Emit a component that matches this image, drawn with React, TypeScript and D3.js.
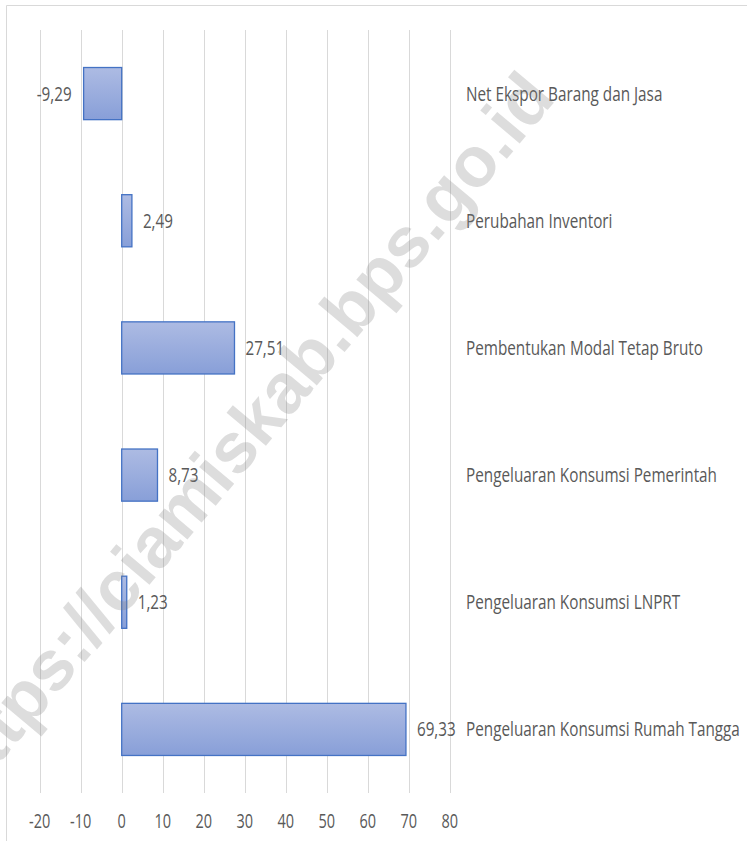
import React from "react";
import * as d3 from "d3";

const categories = [
  "Net Ekspor Barang dan Jasa",
  "Perubahan Inventori",
  "Pembentukan Modal Tetap Bruto",
  "Pengeluaran Konsumsi Pemerintah",
  "Pengeluaran Konsumsi LNPRT",
  "Pengeluaran Konsumsi Rumah Tangga",
];
const values = [-9.29, 2.49, 27.51, 8.73, 1.23, 69.33];
const valueLabels = ["-9,29", "2,49", "27,51", "8,73", "1,23", "69,33"];
const xTicks = [-20, -10, 0, 10, 20, 30, 40, 50, 60, 70, 80];
const watermark = "https://ciamiskab.bps.go.id";

const W = 747;
const H = 841;
const FONT = "'Open Sans', 'Noto Sans', sans-serif";
const TXT = "#595959";
const SY = 1.35;

export default function App() {
  const x = d3.scaleLinear().domain([-20, 80]).range([39.7, 449.7]);
  const y = d3
    .scaleBand<string>()
    .domain(categories)
    .range([30, 793])
    .paddingInner(0.59)
    .paddingOuter(0.295);
  const bw = y.bandwidth();

  return (
    <svg
      width={W}
      height={H}
      style={{ position: "absolute", left: 0, top: 0, background: "#fff" }}
    >
      <defs>
        <linearGradient id="barGrad" x1="0" y1="0" x2="0" y2="1">
          <stop offset="0%" stopColor="#adbbe3" />
          <stop offset="100%" stopColor="#889fd8" />
        </linearGradient>
      </defs>
      <rect x={0} y={0} width={W} height={H} fill="#fff" />
      {/* chart border */}
      <line x1={6.5} y1={5.5} x2={W} y2={5.5} stroke="#d9d9d9" strokeWidth={1} />
      <line x1={6.5} y1={5.5} x2={6.5} y2={H} stroke="#d9d9d9" strokeWidth={1} />

      {/* gridlines */}
      {xTicks.map((t) => (
        <line
          key={t}
          x1={Math.round(x(t)) + 0.5}
          x2={Math.round(x(t)) + 0.5}
          y1={30}
          y2={793}
          stroke="#d9d9d9"
          strokeWidth={1}
        />
      ))}

      {/* tick labels */}
      {xTicks.map((t) => (
        <text
          key={"t" + t}
          transform={`translate(${x(t)},828) scale(1,${SY})`}
          textAnchor="middle"
          fontFamily={FONT}
          fontSize={14.5}
          fill={TXT}
        >
          {String(t)}
        </text>
      ))}

      {/* bars */}
      {categories.map((c, i) => {
        const v = values[i];
        const x0 = x(Math.min(0, v));
        const x1 = x(Math.max(0, v));
        return (
          <rect
            key={c}
            x={x0}
            y={y(c)!}
            width={x1 - x0}
            height={bw}
            fill="url(#barGrad)"
            stroke="#4472c4"
            strokeWidth={1.3}
          />
        );
      })}

      {/* value labels */}
      {categories.map((c, i) => {
        const v = values[i];
        const cy = y(c)! + bw / 2 + 7;
        const lx = v < 0 ? x(v) - 12 : x(v) + 11;
        return (
          <text
            key={"v" + c}
            transform={`translate(${lx},${cy}) scale(1,${SY})`}
            textAnchor={v < 0 ? "end" : "start"}
            fontFamily={FONT}
            fontSize={15.2}
            fill={TXT}
          >
            {valueLabels[i]}
          </text>
        );
      })}

      {/* category labels */}
      {categories.map((c) => (
        <text
          key={"c" + c}
          transform={`translate(466,${y(c)! + bw / 2 + 7}) scale(1,${SY})`}
          fontFamily={FONT}
          fontSize={15.3}
          fill={TXT}
        >
          {c}
        </text>
      ))}

      {/* watermark */}
      <text
        transform={`translate(557,99) rotate(-50)`}
        textAnchor="end"
        fontFamily="'Liberation Sans', Arial, sans-serif"
        fontWeight="bold"
        fontSize={71}
        fill="#808080"
        fillOpacity={0.27}
      >
        {watermark}
      </text>
    </svg>
  );
}
